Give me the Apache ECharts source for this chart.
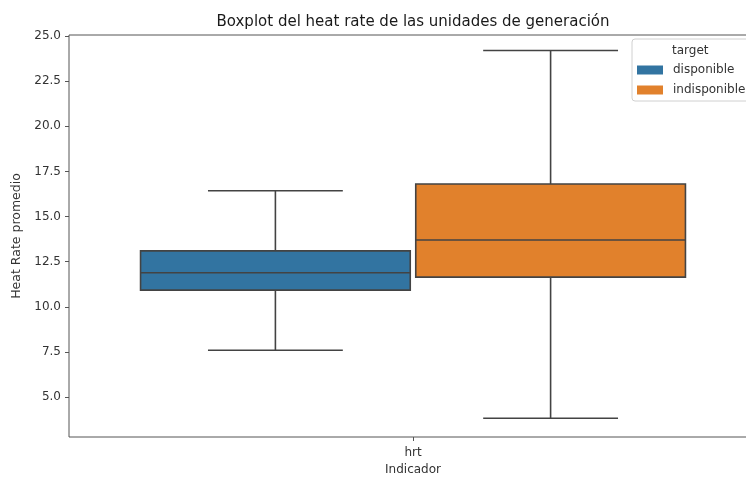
<!DOCTYPE html>
<html>
<head>
<meta charset="utf-8">
<script src="https://cdn.jsdelivr.net/npm/echarts@6/dist/echarts.min.js"></script>
<style>
  html, body { margin: 0; padding: 0; background: #fff; overflow: hidden; }
  /* the axes run a little past the right edge of the window */
  #chart { width: 760px; height: 477px; }
</style>
</head>
<body>
<div id="chart"></div>
<script>
// Categories on the x axis and hue groups
const categories = ['hrt'];
const hueNames = ['disponible', 'indisponible'];

// Box statistics per hue: [min whisker, Q1, median, Q3, max whisker]
const disponibleStats = [7.6, 10.93, 11.89, 13.1, 16.43];
const indisponibleStats = [3.84, 11.65, 13.7, 16.8, 24.19];

// Y tick labels
const yTicks = [5, 7.5, 10, 12.5, 15, 17.5, 20, 22.5, 25];

const hueColors = ['#3274a1', '#e1812c'];
const edgeColor = '#434343';
const fontFamily = 'DejaVu Sans';

const statsByHue = [disponibleStats, indisponibleStats];

function renderBox(params, api) {
  const hue = params.seriesIndex;
  const nHue = hueNames.length;
  const cat = api.value(0);
  const band = api.size([1, 0])[0];
  const groupW = band * 0.8;
  const hueW = groupW / nHue;
  const cx = api.coord([cat, 0])[0] - groupW / 2 + hueW * (hue + 0.5);
  const boxW = hueW * 0.98;
  const capW = boxW * 0.5;
  const y = v => api.coord([cat, v])[1];
  const lo = y(api.value(1)), q1 = y(api.value(2)), med = y(api.value(3)),
        q3 = y(api.value(4)), hi = y(api.value(5));
  const line = { stroke: edgeColor, lineWidth: 1.6 };
  return {
    type: 'group',
    children: [
      { type: 'line', shape: { x1: cx, y1: q1, x2: cx, y2: lo }, style: line },
      { type: 'line', shape: { x1: cx, y1: q3, x2: cx, y2: hi }, style: line },
      { type: 'line', shape: { x1: cx - capW / 2, y1: lo, x2: cx + capW / 2, y2: lo }, style: line },
      { type: 'line', shape: { x1: cx - capW / 2, y1: hi, x2: cx + capW / 2, y2: hi }, style: line },
      { type: 'rect', shape: { x: cx - boxW / 2, y: q3, width: boxW, height: q1 - q3 },
        style: { fill: hueColors[hue], stroke: edgeColor, lineWidth: 1.6 } },
      { type: 'line', shape: { x1: cx - boxW / 2, y1: med, x2: cx + boxW / 2, y2: med }, style: line }
    ]
  };
}

const chart = echarts.init(document.getElementById('chart'), null, { renderer: 'canvas' });

chart.setOption({
  animation: false,
  backgroundColor: '#fff',
  title: {
    text: 'Boxplot del heat rate de las unidades de generación',
    left: 408, top: 10, textAlign: 'center',
    textStyle: { fontFamily, fontSize: 15, fontWeight: 'normal', color: '#1a1a1a' }
  },
  grid: {
    left: 69, top: 35, width: 688, height: 402,
    outerBoundsMode: 'none', containLabel: false,
    show: true, borderColor: '#555', borderWidth: 1, backgroundColor: 'transparent'
  },
  xAxis: {
    type: 'category',
    data: categories,
    name: 'Indicador',
    nameLocation: 'middle',
    nameGap: 27,
    nameTextStyle: { fontFamily, fontSize: 12, color: '#333' },
    axisLine: { show: false },
    axisTick: { show: true, alignWithLabel: true, length: 4, lineStyle: { color: '#555' } },
    axisLabel: { fontFamily, fontSize: 12, color: '#333', margin: 10 },
    splitLine: { show: false }
  },
  yAxis: {
    type: 'value',
    min: 2.8, max: 25.05,
    name: 'Heat Rate promedio',
    nameLocation: 'middle',
    nameGap: 42,
    nameTextStyle: { fontFamily, fontSize: 12.5, color: '#333' },
    axisLine: { show: false },
    axisTick: { show: true, length: 4, customValues: yTicks, lineStyle: { color: '#555' } },
    axisLabel: {
      fontFamily, fontSize: 12, color: '#333', margin: 8,
      customValues: yTicks,
      formatter: v => Number(v).toFixed(1)
    },
    splitLine: { show: false }
  },
  legend: {
    data: hueNames.map(n => ({ name: n, icon: 'rect' })),
    orient: 'vertical',
    left: 632, top: 39,
    padding: [25, 6, 5, 5],
    itemWidth: 26, itemHeight: 9, itemGap: 8,
    backgroundColor: 'rgba(255,255,255,0.85)',
    borderColor: '#d0d0d0', borderWidth: 1, borderRadius: 3,
    textStyle: { fontFamily, fontSize: 12, color: '#333', padding: [0, 0, 0, 5] }
  },
  graphic: [{
    type: 'text', left: 672, top: 45, z: 100,
    style: { text: 'target', fontFamily, fontSize: 12, fill: '#333' }
  }],
  series: hueNames.map((name, i) => ({
    name,
    type: 'custom',
    renderItem: renderBox,
    itemStyle: { color: hueColors[i], borderColor: edgeColor },
    encode: { x: 0, y: [1, 2, 3, 4, 5] },
    data: categories.map((c, ci) => [ci].concat(statsByHue[i])),
    clip: false
  }))
});
</script>
</body>
</html>
